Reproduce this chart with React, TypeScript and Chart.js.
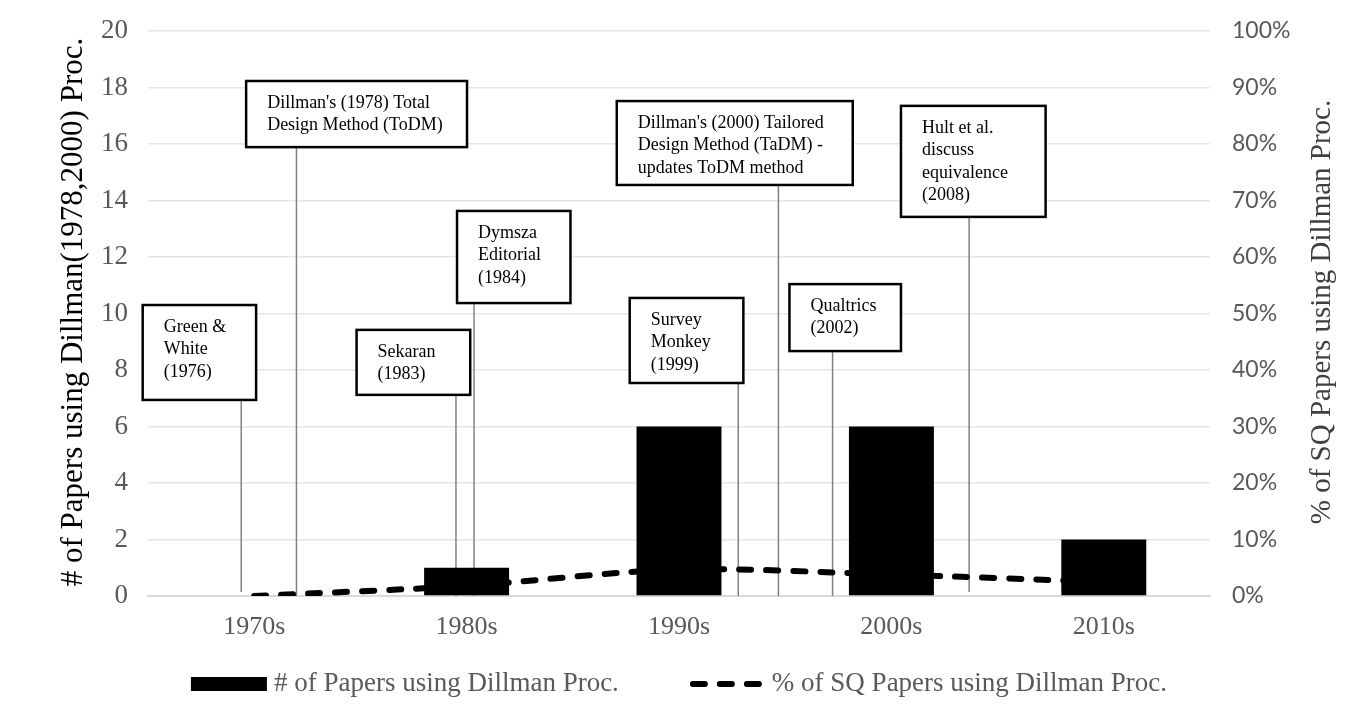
import React, { useEffect, useRef } from 'react';
import { Chart, registerables } from 'chart.js';

Chart.register(...registerables);

// decades on the x axis
const decades = ['1970s', '1980s', '1990s', '2000s', '2010s'];
// # of papers using Dillman procedures (left axis)
const paperCounts = [0, 1, 6, 6, 2];
// % of SQ papers using Dillman procedures (right axis)
const sqPercent = [0, 1.8, 4.7, 3.8, 2.5];

const countMax = 20;
const countStep = 2;
const percentMax = 100;
const percentStep = 10;

// timeline notes: text lines, leader position (category index units),
// box extent (category index units / left axis units)
const noteText = [
  ['Green &', 'White', '(1976)'],
  ["Dillman's (1978) Total", 'Design Method (ToDM)'],
  ['Sekaran', '(1983)'],
  ['Dymsza', 'Editorial', '(1984)'],
  ['Survey', 'Monkey', '(1999)'],
  ["Dillman's (2000) Tailored", 'Design Method (TaDM) -', 'updates ToDM method'],
  ['Qualtrics', '(2002)'],
  ['Hult et al.', 'discuss', 'equivalence', '(2008)'],
];
const noteLeaderX = [-0.061, 0.199, 0.95, 1.035, 2.279, 2.468, 2.723, 3.366];
const noteLeaderEnd = [0.14, 0, 0, 0, 0, 0, 0, 0.14];
const noteBoxLeft = [-0.525, -0.038, 0.482, 0.955, 1.768, 1.707, 2.52, 3.045];
const noteBoxRight = [0.009, 1.002, 1.017, 1.489, 2.303, 2.818, 3.045, 3.726];
const noteBoxTop = [10.3, 18.23, 9.42, 13.63, 10.55, 17.52, 11.04, 17.35];
const noteBoxBottom = [6.94, 15.89, 7.12, 10.37, 7.54, 14.55, 8.67, 13.42];

const leftTitle = '# of Papers using Dillman(1978,2000) Proc.';
const rightTitle = '% of SQ Papers using Dillman Proc.';

const SERIF = '"Liberation Serif", "Times New Roman", serif';
const AXIS_GREY = '#595959';

const catX = (chart: any, idx: number) => {
  const x = chart.scales.x;
  const p0 = x.getPixelForValue(0);
  const p1 = x.getPixelForValue(1);
  return p0 + idx * (p1 - p0);
};

const notesPlugin = {
  id: 'notes',
  beforeDatasetsDraw(chart: any) {
    const { ctx } = chart;
    const y = chart.scales.y;
    ctx.save();
    ctx.strokeStyle = '#808080';
    ctx.lineWidth = 1.5;
    noteText.forEach((_, i) => {
      const px = catX(chart, noteLeaderX[i]);
      ctx.beginPath();
      ctx.moveTo(px, y.getPixelForValue(noteBoxBottom[i]));
      ctx.lineTo(px, y.getPixelForValue(noteLeaderEnd[i]));
      ctx.stroke();
    });
    ctx.restore();
  },
  afterDatasetsDraw(chart: any) {
    const { ctx } = chart;
    const y = chart.scales.y;
    ctx.save();
    noteText.forEach((lines, i) => {
      const l = catX(chart, noteBoxLeft[i]);
      const r = catX(chart, noteBoxRight[i]);
      const t = y.getPixelForValue(noteBoxTop[i]);
      const b = y.getPixelForValue(noteBoxBottom[i]);
      ctx.fillStyle = '#ffffff';
      ctx.fillRect(l, t, r - l, b - t);
      ctx.strokeStyle = '#000000';
      ctx.lineWidth = 2.5;
      ctx.strokeRect(l, t, r - l, b - t);
      ctx.fillStyle = '#000000';
      ctx.font = `18px ${SERIF}`;
      ctx.textAlign = 'left';
      ctx.textBaseline = 'middle';
      lines.forEach((line, j) => {
        ctx.fillText(line, l + 21, t + 22 + j * 22.5);
      });
    });
    ctx.restore();
  },
  afterDraw(chart: any) {
    const { ctx, chartArea } = chart;
    ctx.save();
    // axis titles, both reading bottom-to-top
    ctx.fillStyle = '#000000';
    ctx.textAlign = 'center';
    ctx.textBaseline = 'middle';
    ctx.font = `31px ${SERIF}`;
    ctx.translate(74, 312);
    ctx.rotate(-Math.PI / 2);
    ctx.fillText(leftTitle, 0, 0);
    ctx.restore();

    ctx.save();
    ctx.fillStyle = '#404040';
    ctx.textAlign = 'center';
    ctx.textBaseline = 'middle';
    ctx.font = `29px ${SERIF}`;
    ctx.translate(1322, 312);
    ctx.rotate(-Math.PI / 2);
    ctx.fillText(rightTitle, 0, 0);
    ctx.restore();

    // legend
    ctx.save();
    ctx.font = `27px ${SERIF}`;
    ctx.textBaseline = 'middle';
    ctx.textAlign = 'left';
    const swatchW = 76;
    const gap = 7;
    const itemGap = 70;
    const items = chart.data.datasets.map((ds: any) => ({
      ds,
      w: swatchW + gap + ctx.measureText(ds.label).width,
    }));
    const total = items.reduce((s: number, it: any) => s + it.w, 0) + itemGap * (items.length - 1);
    let x = (chartArea.left + chartArea.right) / 2 - total / 2;
    const ly = 684;
    items.forEach((it: any) => {
      const ds = it.ds;
      if (ds.type === 'line') {
        ctx.save();
        ctx.strokeStyle = ds.borderColor;
        ctx.lineWidth = ds.borderWidth;
        ctx.lineCap = 'round';
        ctx.setLineDash(ds.borderDash);
        ctx.beginPath();
        ctx.moveTo(x + 4, ly);
        ctx.lineTo(x + swatchW, ly);
        ctx.stroke();
        ctx.restore();
      } else {
        ctx.fillStyle = ds.backgroundColor;
        ctx.fillRect(x, ly - 7, swatchW, 14);
      }
      ctx.fillStyle = AXIS_GREY;
      ctx.fillText(ds.label, x + swatchW + gap, ly);
      x += it.w + itemGap;
    });
    ctx.restore();
  },
};

const fitVertical = (width: number) => (scale: any) => {
  scale.width = width;
  scale.paddingTop = 0;
  scale.paddingBottom = 0;
};

const App: React.FC = () => {
  const chartRef = useRef<HTMLCanvasElement | null>(null);
  const chartInstanceRef = useRef<Chart | null>(null);

  useEffect(() => {
    document.body.style.margin = '0';
    const ctx = chartRef.current;
    if (!ctx) return;

    if (chartInstanceRef.current) {
      chartInstanceRef.current.destroy();
    }

    chartInstanceRef.current = new Chart(ctx, {
      type: 'bar',
      data: {
        labels: decades,
        datasets: [
          {
            type: 'bar',
            label: '# of Papers using Dillman Proc.',
            data: paperCounts,
            backgroundColor: '#000000',
            borderWidth: 0,
            yAxisID: 'y',
            categoryPercentage: 1,
            barPercentage: 0.4,
            order: 0,
          },
          {
            type: 'line',
            label: '% of SQ Papers using Dillman Proc.',
            data: sqPercent,
            borderColor: '#000000',
            borderWidth: 6,
            borderDash: [12, 15],
            borderCapStyle: 'round',
            pointRadius: 0,
            tension: 0.3,
            fill: false,
            yAxisID: 'y1',
            order: 1,
          },
        ] as any,
      },
      plugins: [notesPlugin],
      options: {
        responsive: true,
        maintainAspectRatio: false,
        animation: false,
        layout: { padding: { top: 31, bottom: 80, left: 0, right: 0 } },
        plugins: {
          legend: { display: false },
          tooltip: { enabled: false },
        },
        scales: {
          x: {
            grid: { display: false, drawTicks: false },
            border: { display: true, color: '#d9d9d9', width: 2 },
            ticks: {
              color: AXIS_GREY,
              font: { family: SERIF, size: 26 },
              padding: 16,
            },
            afterFit: (scale: any) => { scale.height = 44; },
          },
          y: {
            position: 'left',
            min: 0,
            max: countMax,
            grid: { color: '#e6e6e6', lineWidth: 1.5, drawTicks: false },
            border: { display: false },
            ticks: {
              stepSize: countStep,
              color: AXIS_GREY,
              font: { family: SERIF, size: 27 },
              padding: 20,
            },
            afterFit: fitVertical(148),
          },
          y1: {
            position: 'right',
            min: 0,
            max: percentMax,
            grid: { display: false, drawTicks: false },
            border: { display: false },
            ticks: {
              stepSize: percentStep,
              color: AXIS_GREY,
              font: { family: 'Lato, "Open Sans", sans-serif', size: 23 },
              padding: 22,
              callback: (v: any) => `${v}%`,
            },
            afterFit: fitVertical(136),
          },
        },
      },
    });

    return () => {
      if (chartInstanceRef.current) {
        chartInstanceRef.current.destroy();
        chartInstanceRef.current = null;
      }
    };
  }, []);

  return (
    <div style={{ width: '1346px', height: '720px', position: 'relative', background: '#ffffff' }}>
      <canvas ref={chartRef}></canvas>
    </div>
  );
};

export default App;
